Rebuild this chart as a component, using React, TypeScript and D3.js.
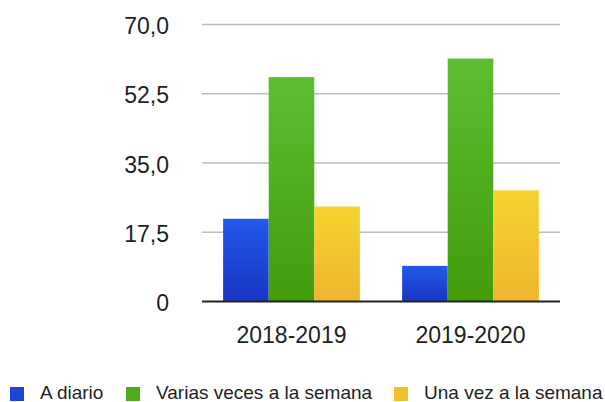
import * as d3 from "d3";
import { useEffect, useRef } from "react";

const categories = ["2018-2019", "2019-2020"];
const seriesNames = ["A diario", "Varias veces a la semana", "Una vez a la semana"];
const aDiario = [20.9, 9.0];
const variasVeces = [56.7, 61.4];
const unaVez = [24.0, 28.1];
const yTicks = [0, 17.5, 35, 52.5, 70];

const W = 605;
const H = 402;

export default function App() {
  const ref = useRef<SVGSVGElement>(null);

  useEffect(() => {
    if (!ref.current) return;
    const svg = d3.select(ref.current);
    svg.selectAll("*").remove();

    const font = "'Liberation Sans', Arial, Helvetica, sans-serif";
    const left = 202;
    const right = 560;
    const top = 24.5;
    const bottom = 301.5;

    const series = [aDiario, variasVeces, unaVez];
    const grads = [
      ["#2259ea", "#1a34c2"],
      ["#5cbe30", "#439c0b"],
      ["#f6d430", "#efb52d"],
    ];
    const colors = ["#1d45d8", "#4fab1c", "#f2c02e"];

    const defs = svg.append("defs");
    grads.forEach((g, i) => {
      const lg = defs
        .append("linearGradient")
        .attr("id", `grad${i}`)
        .attr("x1", 0)
        .attr("y1", 0)
        .attr("x2", 0)
        .attr("y2", 1);
      lg.append("stop").attr("offset", "0%").attr("stop-color", g[0]);
      lg.append("stop").attr("offset", "100%").attr("stop-color", g[1]);
    });

    const x = d3
      .scaleBand()
      .domain(categories)
      .range([left, right])
      .paddingInner(0.236)
      .paddingOuter(0.118);
    const xs = d3
      .scaleBand()
      .domain(seriesNames)
      .range([0, x.bandwidth()]);
    const y = d3.scaleLinear().domain([0, 70]).range([bottom, top]);

    const fmt = (v: number) => (v === 0 ? "0" : v.toFixed(1).replace(".", ","));

    // gridlines
    svg
      .append("g")
      .selectAll("line")
      .data(yTicks.filter((t) => t > 0))
      .enter()
      .append("line")
      .attr("x1", left)
      .attr("x2", right)
      .attr("y1", (d) => y(d))
      .attr("y2", (d) => y(d))
      .attr("stroke", "#bdbdbd")
      .attr("stroke-width", 1.5);

    // y labels
    svg
      .append("g")
      .selectAll("text")
      .data(yTicks)
      .enter()
      .append("text")
      .attr("x", 169)
      .attr("y", (d) => y(d) + 9.5)
      .attr("text-anchor", "end")
      .attr("font-family", font)
      .attr("font-size", 23)
      .attr("fill", "#1e1e1e")
      .text(fmt);

    // bars
    series.forEach((vals, si) => {
      svg
        .append("g")
        .selectAll("rect")
        .data(vals)
        .enter()
        .append("rect")
        .attr("x", (_, i) => x(categories[i])! + xs(seriesNames[si])!)
        .attr("y", (d) => y(d))
        .attr("width", xs.bandwidth())
        .attr("height", (d) => bottom - y(d))
        .attr("fill", `url(#grad${si})`);
    });

    // baseline
    svg
      .append("line")
      .attr("x1", left)
      .attr("x2", right)
      .attr("y1", bottom)
      .attr("y2", bottom)
      .attr("stroke", "#222")
      .attr("stroke-width", 2);

    // x labels
    svg
      .append("g")
      .selectAll("text")
      .data(categories)
      .enter()
      .append("text")
      .attr("x", (d) => x(d)! + x.bandwidth() / 2)
      .attr("y", 343)
      .attr("text-anchor", "middle")
      .attr("font-family", font)
      .attr("font-size", 23)
      .attr("fill", "#1e1e1e")
      .text((d) => d);

    // legend
    const legendX = [10, 126, 394];
    const lg = svg
      .append("g")
      .selectAll("g")
      .data(seriesNames)
      .enter()
      .append("g")
      .attr("transform", (_, i) => `translate(${legendX[i]},0)`);
    lg.append("rect")
      .attr("x", 0)
      .attr("y", 387)
      .attr("width", 14)
      .attr("height", 14)
      .attr("fill", (_, i) => colors[i]);
    lg.append("text")
      .attr("x", 30)
      .attr("y", 399)
      .attr("font-family", font)
      .attr("font-size", 19)
      .attr("fill", "#1e1e1e")
      .text((d) => d);
  }, []);

  return (
    <svg
      ref={ref}
      width={W}
      height={H}
      style={{ position: "absolute", left: 0, top: 0, background: "#fff" }}
    ></svg>
  );
}
